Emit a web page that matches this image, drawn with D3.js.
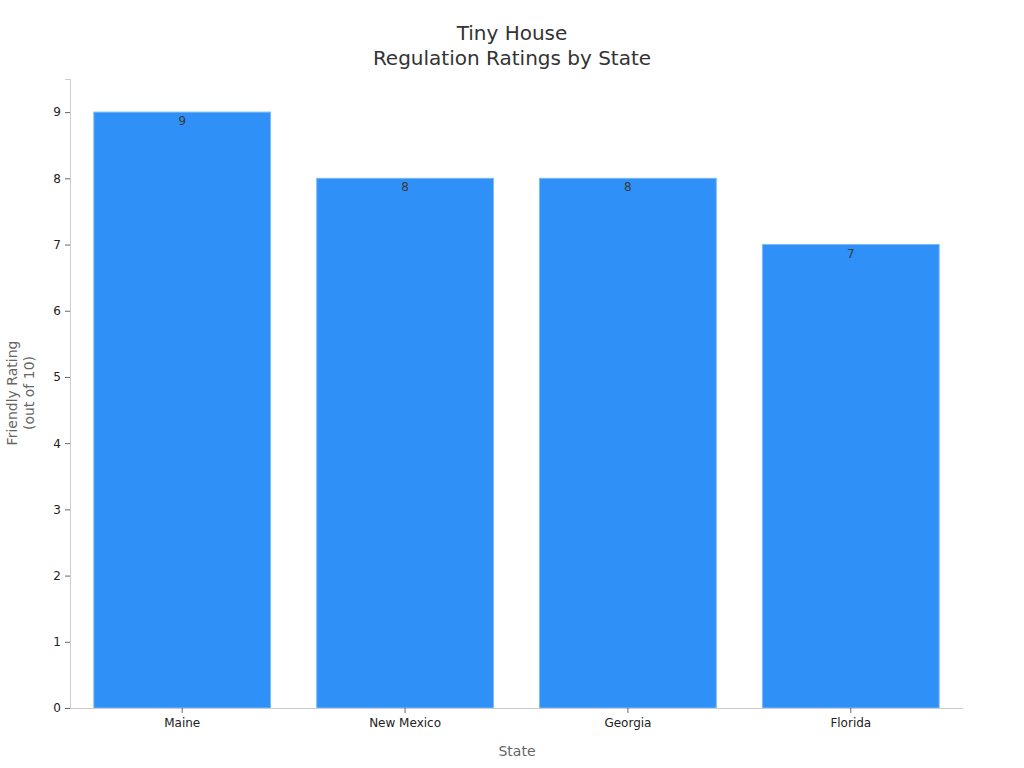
<!DOCTYPE html>
<html><head><meta charset="utf-8">
<script src="https://cdn.jsdelivr.net/npm/d3@7"></script>
<style>body{margin:0;background:#fff;font-family:"DejaVu Sans",sans-serif;}</style>
</head><body><svg id="c" width="1024" height="768"></svg>
<script>
const states = ["Maine", "New Mexico", "Georgia", "Florida"];
const ratings = [9, 8, 8, 7];
const yTicks = [0,1,2,3,4,5,6,7,8,9];
const titleLines = ["Tiny House", "Regulation Ratings by State"];
const yTitleLines = ["Friendly Rating", "(out of 10)"];
const xTitle = "State";

const svg = d3.select("#c");
const m = {l:70, r:963, t:79, b:708};
const x = d3.scaleBand().domain(states).range([m.l, m.r]).paddingInner(0.207).paddingOuter(0.107);
const y = d3.scaleLinear().domain([0, 9.5]).range([m.b, m.t]);

svg.selectAll("rect.bar").data(states).enter().append("rect")
  .attr("x", d => x(d)).attr("width", x.bandwidth())
  .attr("y", (d,i) => y(ratings[i])).attr("height", (d,i) => y(0) - y(ratings[i]))
  .attr("fill", "#2f91f8").attr("stroke", "#7ab8f7").attr("stroke-width", 1);

svg.selectAll("text.val").data(states).enter().append("text")
  .attr("x", d => x(d) + x.bandwidth()/2).attr("y", (d,i) => y(ratings[i]) + 13)
  .attr("text-anchor", "middle").attr("font-size", 12).attr("fill", "#3a3a3a")
  .text((d,i) => ratings[i]);

const ya = svg.append("g").attr("transform", `translate(${m.l},0)`)
  .call(d3.axisLeft(y).tickValues(yTicks).tickSize(5).tickPadding(4));
const xa = svg.append("g").attr("transform", `translate(0,${m.b})`)
  .call(d3.axisBottom(x).tickSize(5).tickPadding(5));
[ya, xa].forEach(a => {
  a.select(".domain").attr("stroke", "#ccc");
  a.selectAll(".tick line").attr("stroke", "#666");
  a.selectAll(".tick text").attr("font-size", 12).attr("fill", "#222").attr("font-family", "DejaVu Sans");
});
xa.select(".domain").attr("d", `M${m.l},0.5H${m.r}`);

svg.append("text").attr("x", 512).attr("y", 40).attr("text-anchor", "middle")
  .attr("font-size", 20).attr("fill", "#333")
  .selectAll("tspan").data(titleLines).enter().append("tspan")
  .attr("x", 512).attr("dy", (d,i) => i ? 25 : 0).text(d => d);

svg.append("text").attr("x", 517).attr("y", 756).attr("text-anchor", "middle")
  .attr("font-size", 14).attr("fill", "#666").text(xTitle);

svg.append("text").attr("transform", "translate(17,393) rotate(-90)")
  .attr("text-anchor", "middle").attr("font-size", 14).attr("fill", "#666")
  .selectAll("tspan").data(yTitleLines).enter().append("tspan")
  .attr("x", 0).attr("dy", (d,i) => i ? 17 : 0).text(d => d);
</script></body></html>
